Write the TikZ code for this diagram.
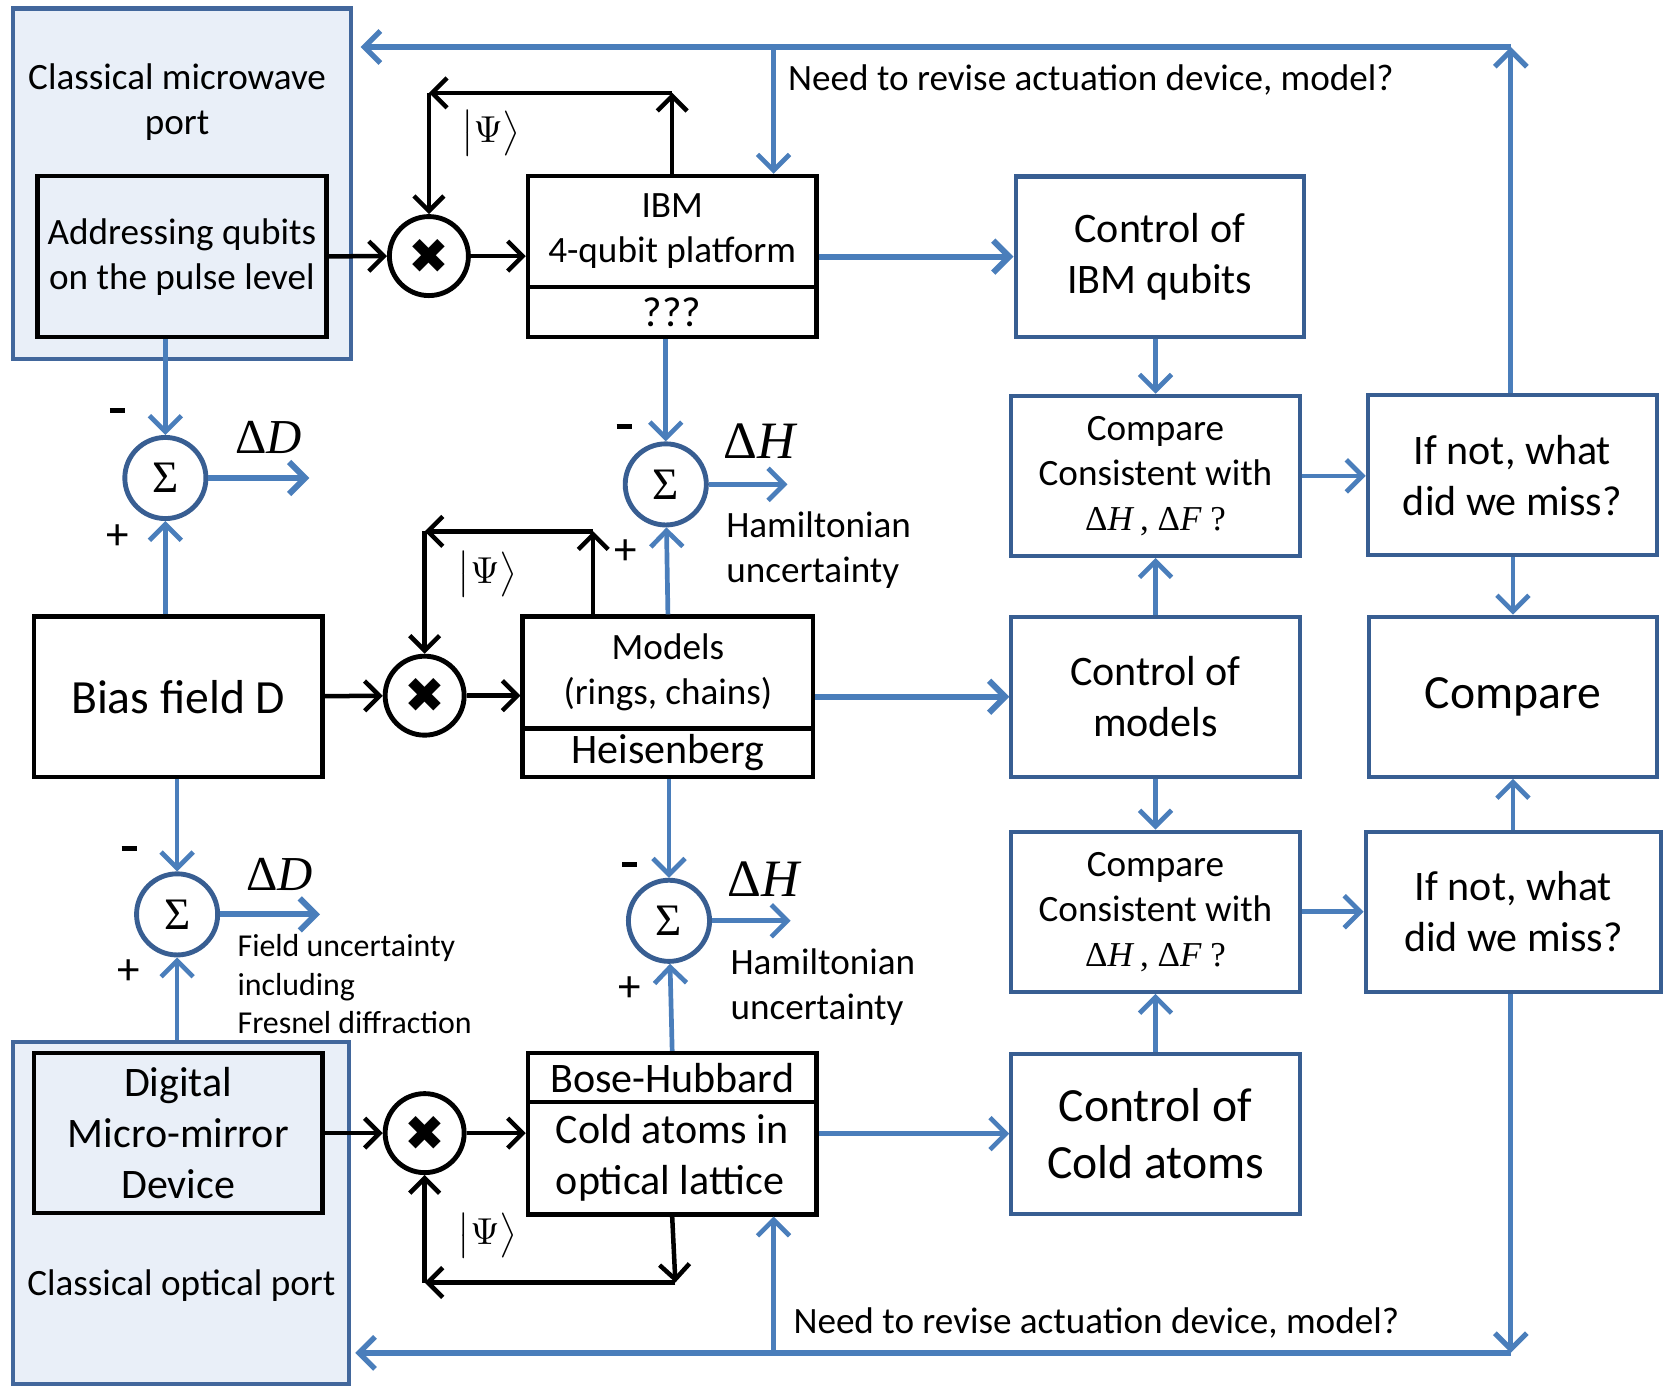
\documentclass[tikz,border=0pt]{standalone}
\usepackage{fontspec}
\setmainfont{Carlito}
\newfontfamily\symfont{DejaVu Sans}
\newfontfamily\timesfont{Liberation Serif}
\usetikzlibrary{positioning,arrows.meta,calc}
\definecolor{panelfill}{RGB}{233,239,248}
\definecolor{panelblue}{RGB}{66,103,156}
\definecolor{flowblue}{RGB}{74,126,187}
\definecolor{boxblue}{RGB}{56,94,146}
\newcommand{\psiket}{$\big|\Psi\big\rangle$}

\begin{document}
\begin{tikzpicture}[
    x=0.01cm, y=-0.01cm,
    fsmall/.style={font=\fontsize{8.5}{10.2}\selectfont},
    fmid/.style={font=\fontsize{9.9}{12}\selectfont},
    fbig/.style={font=\fontsize{11.2}{13.6}\selectfont},
    fhuge/.style={font=\fontsize{12.7}{14.8}\selectfont},
    panel/.style={draw=panelblue, fill=panelfill, line width=1.1pt, inner sep=0pt},
    blkbox/.style={draw, line width=1.2pt, align=center, inner sep=0pt, minimum width=2.7cm},
    bluebox/.style={draw=boxblue, line width=1.1pt, align=center, inner sep=0pt, minimum width=2.7cm, minimum height=1.5cm},
    sumnode/.style={circle, draw=boxblue, line width=1.3pt, fill=white, minimum size=0.76cm, inner sep=0pt, font=\timesfont\fontsize{12}{12}\selectfont},
    mulnode/.style={circle, draw, line width=1.3pt, fill=white, minimum size=0.74cm, inner sep=0pt, font=\symfont\fontsize{13}{13}\selectfont},
    dlabel/.style={font=\timesfont\fontsize{13}{13}\selectfont},
    sign/.style={font=\fontsize{12}{12}\selectfont, inner sep=0pt},
    note/.style={align=left, anchor=west, inner sep=0pt},
    sigarrow/.style={line width=1.2pt, -{Straight Barb[length=1.4mm, width=2.8mm]}},
    flowarrow/.style={draw=flowblue, line width=1.25pt, -{Straight Barb[length=1.5mm, width=3mm]}},
    bigflow/.style={flowarrow, line width=1.6pt}
]
    \useasboundingbox (0,0) rectangle (1568,1299);

    % Ports
    \node[panel, minimum width=3.17cm, minimum height=3.28cm] (mwpanel) at (170.5,172) {};
    \node[fmid, align=center] (mwlabel) at (166,96) {Classical microwave\\port};
    \node[blkbox, fill=panelfill, fmid, minimum width=2.71cm, minimum height=1.51cm] (addr) at (170.5,240.5) {Addressing qubits\\on the pulse level};

    \node[panel, minimum width=3.15cm, minimum height=3.2cm] (optpanel) at (169.5,1137) {};
    \node[fmid] (optlabel) at (170,1205) {Classical optical port};
    \node[blkbox, fill=panelfill, fbig, minimum height=1.5cm] (dmd) at (167,1062) {Digital\\Micro-mirror\\Device};

    % Quantum platforms
    \node[blkbox, fmid, minimum height=1.04cm] (ibm) at (630,217) {IBM\\4-qubit platform};
    \node[blkbox, fbig, minimum height=0.47cm] (ibmlow) at (630,292.5) {???};

    \node[blkbox, fhuge, minimum height=1.5cm] (bias) at (167,653) {Bias field D};
    \node[blkbox, fmid, minimum width=2.72cm, minimum height=1.05cm] (models) at (626,630.5) {Models\\(rings, chains)};
    \node[blkbox, fbig, minimum width=2.72cm, minimum height=0.45cm] (modlow) at (626,705.5) {Heisenberg};

    \node[blkbox, fbig, minimum height=0.46cm] (bh) at (630,1010) {Bose-Hubbard};
    \node[blkbox, fbig, align=left, minimum height=1.05cm] (bhlow) at (630,1085.5) {Cold atoms in\\optical lattice};

    % Multipliers
    \node[mulnode] (mul1) at (402,240) {✖};
    \node[mulnode] (mul2) at (398,652) {✖};
    \node[mulnode] (mul3) at (398,1062) {✖};

    % Summing junctions
    \node[sumnode] (sum1) at (155,448) {Σ};
    \node[sumnode] (sum2) at (624,454) {Σ};
    \node[sumnode] (sum3) at (166,857) {Σ};
    \node[sumnode] (sum4) at (627,863) {Σ};

    % Control and comparison
    \node[bluebox, fbig] (ctrlibm) at (1087,240.5) {Control of\\IBM qubits};
    \node[bluebox, fmid] (cmp1) at (1083,446) {Compare\\Consistent with\\{\timesfont\fontsize{9.3}{12}\selectfont Δ\textit{H}\,, Δ\textit{F} ?}};
    \node[bluebox, fbig, minimum width=2.71cm] (miss1) at (1417.5,445.5) {If not, what\\did we miss?};
    \node[bluebox, fbig] (ctrlmod) at (1083,653) {Control of\\models};
    \node[bluebox, fhuge] (compare) at (1418,653) {Compare};
    \node[bluebox, fmid] (cmp2) at (1083,854.5) {Compare\\Consistent with\\{\timesfont\fontsize{9.3}{12}\selectfont Δ\textit{H}\,, Δ\textit{F} ?}};
    \node[bluebox, fbig, minimum width=2.77cm] (miss2) at (1418.5,854.5) {If not, what\\did we miss?};
    \node[bluebox, font=\fontsize{12.7}{15.2}\selectfont] (ctrlcold) at (1083,1062.5) {Control of\\Cold atoms};

    % Labels
    \node[dlabel] (dd1) at (252,410) {Δ\textit{D}};
    \node[dlabel, font=\timesfont\fontsize{14}{14}\selectfont] (dh1) at (713,413) {Δ\textit{H}};
    \node[dlabel] (dd2) at (262,820) {Δ\textit{D}};
    \node[dlabel, font=\timesfont\fontsize{14}{14}\selectfont] (dh2) at (717,824) {Δ\textit{H}};
    \node[fmid, note] (hamtop) at (680,515.5) {Hamiltonian\\uncertainty};
    \node[fmid, note] (hambot) at (684,925.5) {Hamiltonian\\uncertainty};
    \node[fsmall, note] (fielderr) at (222,922.5) {Field uncertainty\\including\\Fresnel diffraction};
    \node[fmid, note] (revtop) at (738,75) {Need to revise actuation device, model?};
    \node[fmid, note] (revbot) at (743,1240) {Need to revise actuation device, model?};
    \node[fmid, inner sep=0pt] (ket1) at (460,125) {\psiket};
    \node[fmid, inner sep=0pt] (ket2) at (457,538) {\psiket};
    \node[fmid, inner sep=0pt] (ket3) at (457,1158) {\psiket};

    \node[sign] (m1) at (110,385) {\rule{4pt}{1.4pt}};
    \node[sign] (p1) at (110,503) {+};
    \node[sign] (m2) at (585,400) {\rule{4pt}{1.4pt}};
    \node[sign] (p2) at (586,517) {+};
    \node[sign] (m3) at (121,795) {\rule{4pt}{1.4pt}};
    \node[sign] (p3) at (121,911) {+};
    \node[sign] (m4) at (590,810) {\rule{4pt}{1.4pt}};
    \node[sign] (p4) at (590,927) {+};

    % Signal path
    \draw[sigarrow] (addr) -- (mul1);
    \draw[sigarrow] (mul1) -- (ibm.west |- mul1);
    \draw[sigarrow] (bias) -- (mul2);
    \draw[sigarrow] (mul2) -- (models.west |- mul2);
    \draw[sigarrow] (dmd) -- (mul3);
    \draw[sigarrow] (mul3) -- (bhlow.west |- mul3);

    % State feedback loops
    \coordinate (loop1a) at (630,87);
    \coordinate (loop1b) at (402,87);
    \draw[sigarrow] (ibm.north) -- (loop1a);
    \draw[sigarrow] (loop1a) -- (loop1b);
    \draw[sigarrow] (loop1b) -- (mul1);
    \coordinate (loop2a) at (556,498);
    \coordinate (loop2b) at (398,498);
    \draw[sigarrow] (models.north -| loop2a) -- (loop2a);
    \draw[sigarrow] (loop2a) -- (loop2b);
    \draw[sigarrow] (loop2b) -- (mul2);
    \coordinate (loop3a) at (633,1202);
    \coordinate (loop3b) at (398,1202);
    \draw[sigarrow] (bhlow.south) -- (loop3a);
    \draw[sigarrow] (loop3a) -- (loop3b);
    \draw[sigarrow] (loop3b) -- (mul3);

    % Error signals
    \draw[flowarrow] (addr.south -| sum1) -- (sum1);
    \draw[flowarrow] (bias.north -| sum1) -- (sum1);
    \draw[flowarrow] (ibmlow.south -| sum2) -- (sum2);
    \draw[flowarrow] (models.north) -- (sum2);
    \draw[flowarrow] (bias.south -| sum3) -- (sum3);
    \draw[flowarrow] (optpanel.north -| sum3) -- (sum3);
    \draw[flowarrow] (modlow.south -| sum4) -- (sum4);
    \draw[flowarrow] (bh.north) -- (sum4);
    \coordinate (out1) at (290,448);
    \coordinate (out2) at (738,454);
    \coordinate (out3) at (300,857);
    \coordinate (out4) at (741,863);
    \draw[bigflow] (sum1) -- (out1);
    \draw[flowarrow] (sum2) -- (out2);
    \draw[bigflow] (sum3) -- (out3);
    \draw[flowarrow] (sum4) -- (out4);

    % Control chain
    \draw[bigflow] (ibm.east |- ctrlibm) -- (ctrlibm);
    \draw[bigflow] (modlow.east |- ctrlmod) -- (ctrlmod);
    \draw[flowarrow] (bhlow.east |- ctrlcold) -- (ctrlcold);
    \draw[flowarrow] (ctrlibm.south -| cmp1) -- (cmp1);
    \draw[flowarrow] (ctrlmod) -- (cmp1);
    \draw[flowarrow] (ctrlmod) -- (cmp2);
    \draw[flowarrow] (ctrlcold) -- (cmp2);
    \draw[flowarrow] (cmp1) -- (miss1.west |- cmp1);
    \draw[flowarrow] (cmp2) -- (miss2.west |- cmp2);
    \draw[flowarrow] (miss1.south -| compare) -- (compare);
    \draw[flowarrow] (miss2.north -| compare) -- (compare);

    % Revision loops
    \coordinate (topR) at (1416,44);
    \coordinate (topL) at (338,44);
    \coordinate (topB) at (725,44);
    \draw[flowarrow, line width=1.4pt] (miss1.north -| topR) -- (topR);
    \draw[flowarrow, line width=1.4pt] (topR) -- (topL);
    \draw[flowarrow] (topB) -- (ibm.north -| topB);
    \coordinate (botR) at (1416,1268);
    \coordinate (botL) at (333,1268);
    \coordinate (botB) at (725,1268);
    \draw[flowarrow, line width=1.4pt] (miss2.south -| botR) -- (botR);
    \draw[flowarrow, line width=1.4pt] (botR) -- (botL);
    \draw[flowarrow] (botB) -- (bhlow.south -| botB);
\end{tikzpicture}
\end{document}
